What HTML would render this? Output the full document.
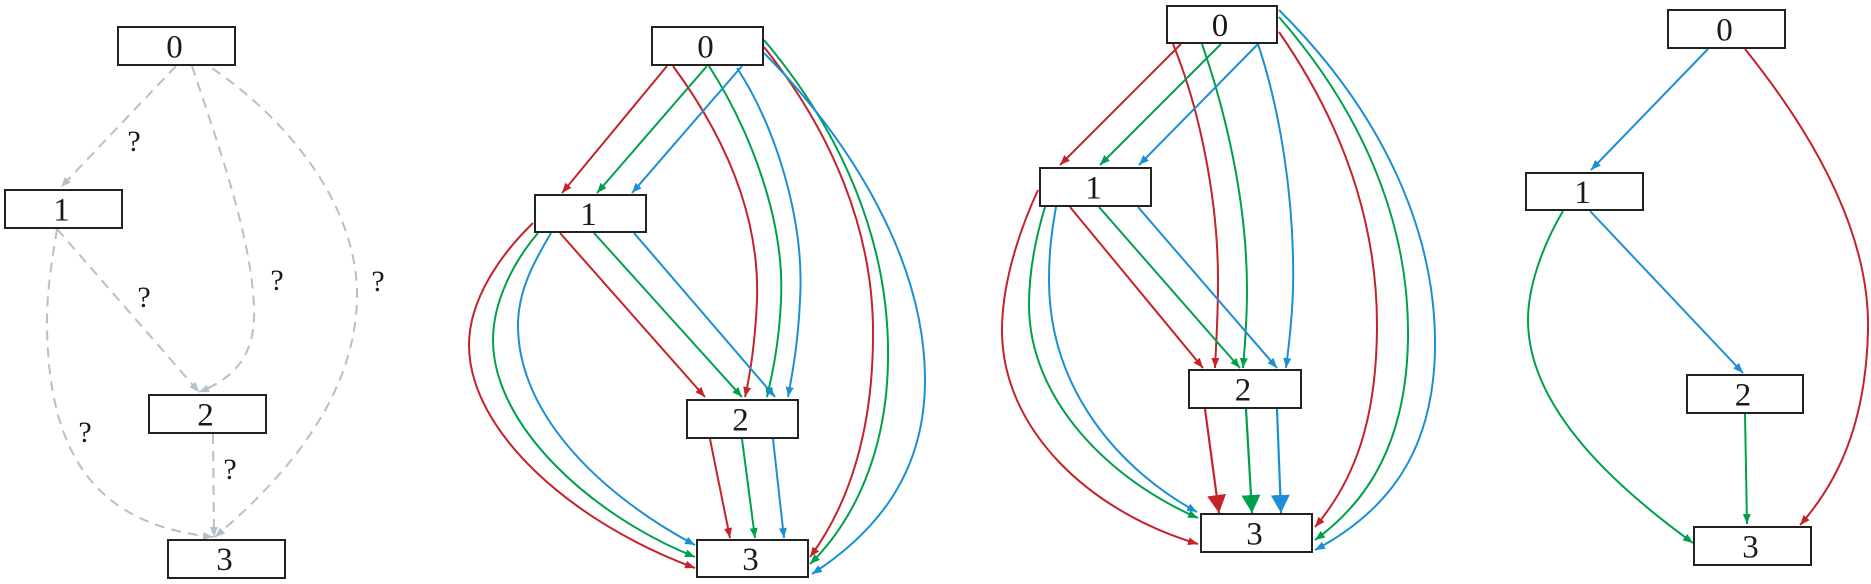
<!DOCTYPE html>
<html><head><meta charset="utf-8"><style>
html,body{margin:0;padding:0;background:#fff;}
svg{display:block;}
text{font-family:"Liberation Serif",serif;fill:#1a1a1a;}
</style></head><body>
<svg width="1871" height="584" viewBox="0 0 1871 584" xmlns="http://www.w3.org/2000/svg">
<defs>
<marker id="ag" markerUnits="userSpaceOnUse" viewBox="0 0 10 8" markerWidth="10" markerHeight="8" refX="10" refY="4" orient="auto"><path d="M0,0 L10,4 L0,8 z" fill="#b5c0ca"/></marker>
<marker id="ar" markerUnits="userSpaceOnUse" viewBox="0 0 10 8" markerWidth="10" markerHeight="8" refX="10" refY="4" orient="auto"><path d="M0,0 L10,4 L0,8 z" fill="#c4232b"/></marker>
<marker id="ae" markerUnits="userSpaceOnUse" viewBox="0 0 10 8" markerWidth="10" markerHeight="8" refX="10" refY="4" orient="auto"><path d="M0,0 L10,4 L0,8 z" fill="#00a04b"/></marker>
<marker id="ab" markerUnits="userSpaceOnUse" viewBox="0 0 10 8" markerWidth="10" markerHeight="8" refX="10" refY="4" orient="auto"><path d="M0,0 L10,4 L0,8 z" fill="#1b8fd4"/></marker>
<marker id="Br" markerUnits="userSpaceOnUse" viewBox="0 0 18 19" markerWidth="18" markerHeight="19" refX="18" refY="9.5" orient="auto"><path d="M0,0 L18,9.5 L0,19 z" fill="#c4232b"/></marker>
<marker id="Be" markerUnits="userSpaceOnUse" viewBox="0 0 18 19" markerWidth="18" markerHeight="19" refX="18" refY="9.5" orient="auto"><path d="M0,0 L18,9.5 L0,19 z" fill="#00a04b"/></marker>
<marker id="Bb" markerUnits="userSpaceOnUse" viewBox="0 0 18 19" markerWidth="18" markerHeight="19" refX="18" refY="9.5" orient="auto"><path d="M0,0 L18,9.5 L0,19 z" fill="#1b8fd4"/></marker>
</defs>

<!-- ================= Panel 1 ================= -->
<g fill="none" stroke="#b5c0ca" stroke-width="2" stroke-dasharray="10,7" marker-end="url(#ag)">
<path d="M176,66 L61,187"/>
<path d="M192,66 C220,150 256,250 254,320 C252,360 230,380 199,392"/>
<path d="M198,59 C280,110 357,200 357,295 C357,405 270,490 215,537"/>
<path d="M57,229 L199,392"/>
<path d="M57,229 C52,260 47,290 47,320 C47,460 100,525 213,537"/>
<path d="M213,434 L214,537"/>
</g>
<g font-size="30" text-anchor="middle">
<text x="134" y="151">?</text>
<text x="277" y="290">?</text>
<text x="378" y="291">?</text>
<text x="144" y="307">?</text>
<text x="85" y="442">?</text>
<text x="230" y="479">?</text>
</g>
<g fill="#fff" stroke="#222" stroke-width="2">
<rect x="118" y="27" width="117" height="38"/>
<rect x="5" y="190" width="117" height="38"/>
<rect x="149" y="395" width="117" height="38"/>
<rect x="168" y="540" width="117" height="38"/>
</g>
<g font-size="33" text-anchor="middle">
<text x="174.5" y="57.5">0</text>
<text x="61.5" y="220.5">1</text>
<text x="205.5" y="425.5">2</text>
<text x="224.5" y="570">3</text>
</g>

<!-- ================= Panel 2 ================= -->
<g fill="none" stroke-width="2">
<g stroke="#c4232b" marker-end="url(#ar)">
<path d="M667,66 L562,193"/>
<path d="M673,66 C720,130 760,210 757,300 C755,345 750,375 745,397"/>
<path d="M764,47 C830,130 875,230 873,340 C872,440 845,510 810,557"/>
<path d="M560,233 L705,397"/>
<path d="M533,223 C500,255 469,300 469,345 C469,430 570,522 695,568"/>
<path d="M710,439 L730,538"/>
</g>
<g stroke="#00a04b" marker-end="url(#ae)">
<path d="M707,66 L597,193"/>
<path d="M709,66 C750,130 785,220 781,300 C779,345 772,375 767,397"/>
<path d="M764,40 C840,130 890,240 888,360 C887,450 855,520 810,564"/>
<path d="M594,233 L742,397"/>
<path d="M538,233 C515,260 493,300 493,340 C493,425 590,515 695,557"/>
<path d="M742,439 L755,538"/>
</g>
<g stroke="#1b8fd4" marker-end="url(#ab)">
<path d="M742,66 L632,193"/>
<path d="M737,68 C775,125 805,220 800,300 C798,345 792,375 788,397"/>
<path d="M764,53 C850,140 925,260 925,380 C925,470 880,530 812,574"/>
<path d="M634,233 L775,397"/>
<path d="M551,233 C535,260 518,290 518,325 C518,420 610,500 695,545"/>
<path d="M773,439 L784,538"/>
</g>
</g>
<g fill="#fff" stroke="#222" stroke-width="2">
<rect x="652" y="27" width="111" height="38"/>
<rect x="535" y="195" width="111" height="37"/>
<rect x="687" y="400" width="111" height="38"/>
<rect x="697" y="540" width="111" height="37"/>
</g>
<g font-size="33" text-anchor="middle">
<text x="705.5" y="57.5">0</text>
<text x="588.5" y="225">1</text>
<text x="740.5" y="430.5">2</text>
<text x="750.5" y="570">3</text>
</g>

<!-- ================= Panel 3 ================= -->
<g fill="none" stroke-width="2">
<g stroke="#c4232b" marker-end="url(#ar)">
<path d="M1181,44 L1060,165"/>
<path d="M1173,44 C1200,110 1218,200 1218,280 C1218,320 1216,345 1215,368"/>
<path d="M1279,32 C1340,120 1378,220 1377,330 C1376,420 1355,480 1315,527"/>
<path d="M1070,207 L1203,368"/>
<path d="M1038,190 C1015,240 1002,290 1002,330 C1002,430 1090,512 1198,544"/>
</g>
<g stroke="#00a04b" marker-end="url(#ae)">
<path d="M1221,44 L1100,165"/>
<path d="M1202,44 C1225,110 1247,200 1247,290 C1247,320 1245,345 1243,368"/>
<path d="M1279,17 C1360,110 1410,220 1408,340 C1406,440 1370,500 1315,540"/>
<path d="M1099,207 L1240,368"/>
<path d="M1045,207 C1035,240 1029,275 1029,305 C1029,400 1110,480 1198,518"/>
</g>
<g stroke="#1b8fd4" marker-end="url(#ab)">
<path d="M1258,44 L1139,165"/>
<path d="M1258,44 C1280,110 1295,200 1293,290 C1292,320 1289,345 1286,368"/>
<path d="M1279,10 C1380,110 1437,230 1435,350 C1433,450 1390,510 1315,550"/>
<path d="M1138,207 L1277,368"/>
<path d="M1056,207 C1051,235 1049,255 1049,280 C1049,390 1120,470 1197,512"/>
</g>
<path d="M1205,409 L1219,513" stroke="#c4232b" stroke-width="2.2" marker-end="url(#Br)"/>
<path d="M1246,409 L1252,513" stroke="#00a04b" stroke-width="2.2" marker-end="url(#Be)"/>
<path d="M1277,409 L1281,513" stroke="#1b8fd4" stroke-width="2.2" marker-end="url(#Bb)"/>
</g>
<g fill="#fff" stroke="#222" stroke-width="2">
<rect x="1167" y="6" width="110" height="37"/>
<rect x="1040" y="168" width="111" height="38"/>
<rect x="1189" y="370" width="112" height="38"/>
<rect x="1201" y="514" width="111" height="38"/>
</g>
<g font-size="33" text-anchor="middle">
<text x="1220" y="36">0</text>
<text x="1093.5" y="198.5">1</text>
<text x="1243" y="400.5">2</text>
<text x="1254.5" y="544.5">3</text>
</g>

<!-- ================= Panel 4 ================= -->
<g fill="none" stroke-width="2">
<path d="M1708,49 L1591,170" stroke="#1b8fd4" marker-end="url(#ab)"/>
<path d="M1590,211 L1743,373" stroke="#1b8fd4" marker-end="url(#ab)"/>
<path d="M1745,414 L1747,524" stroke="#00a04b" marker-end="url(#ae)"/>
<path d="M1745,49 C1810,130 1870,230 1868,330 C1866,420 1840,480 1800,525" stroke="#c4232b" marker-end="url(#ar)"/>
<path d="M1563,211 C1540,250 1528,290 1528,320 C1528,410 1620,490 1693,543" stroke="#00a04b" marker-end="url(#ae)"/>
</g>
<g fill="#fff" stroke="#222" stroke-width="2">
<rect x="1668" y="10" width="117" height="38"/>
<rect x="1526" y="173" width="117" height="37"/>
<rect x="1687" y="375" width="116" height="38"/>
<rect x="1694" y="527" width="117" height="38"/>
</g>
<g font-size="33" text-anchor="middle">
<text x="1724.5" y="40.5">0</text>
<text x="1582.5" y="203">1</text>
<text x="1743" y="405.5">2</text>
<text x="1750.5" y="557.5">3</text>
</g>
</svg>
</body></html>
